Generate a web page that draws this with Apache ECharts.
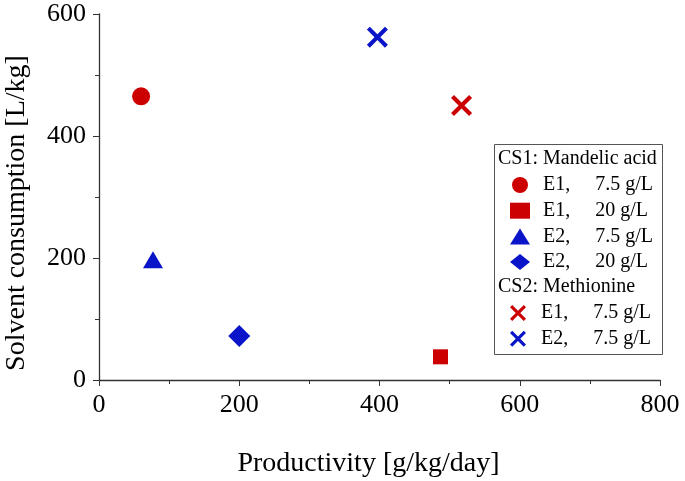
<!DOCTYPE html>
<html><head><meta charset="utf-8">
<script src="https://cdn.jsdelivr.net/npm/echarts@6/dist/echarts.min.js"></script>
<style>html,body{margin:0;padding:0;background:#fff}#c{width:685px;height:481px}</style>
</head><body><div id="c"></div>
<script>
const seriesNames = ['E1,     7.5 g/L', 'E1,     20 g/L', 'E2,     7.5 g/L', 'E2,     20 g/L', 'E1,     7.5 g/L ', 'E2,     7.5 g/L '];
const xValues = [60, 487, 77, 200, 517, 397];
const yValues = [465, 38, 197, 72, 450, 562];
const xTicks = [0, 200, 400, 600, 800];
const yTicks = [0, 200, 400, 600];
const groupTitles = ['CS1: Mandelic acid', 'CS2: Methionine'];

const RED = '#cc0000', BLUE = '#0a14c8';
const X = 'path://M0,1.4L1.4,0L5,3.6L8.6,0L10,1.4L6.4,5L10,8.6L8.6,10L5,6.4L1.4,10L0,8.6L3.6,5Z';
const symbols = ['circle', 'rect', 'triangle', 'diamond', X, X];
const sizes = [18, 15, [20, 17], [22, 22], 21, 21];
const colors = [RED, RED, BLUE, BLUE, RED, BLUE];
const font = 'Liberation Serif';

const series = seriesNames.map((n, i) => ({
  type: 'scatter', name: n, symbol: symbols[i], symbolSize: sizes[i],
  itemStyle: {color: colors[i], opacity: 1},
  data: [[xValues[i], yValues[i]]]
}));

const legendCommon = {
  orient: 'vertical', left: 510, itemWidth: 20, itemHeight: 16, itemGap: 5.7,
  textStyle: {fontFamily: font, fontSize: 20, lineHeight: 20, color: '#000', padding: [0, 0, 0, 8]},
  selectedMode: false, padding: 0
};

const chart = echarts.init(document.getElementById('c'), null, {renderer: 'canvas'});
chart.setOption({
  animation: false,
  grid: {left: 99, right: 25, top: 14, bottom: 101, containLabel: false, outerBoundsMode: 'none'},
  xAxis: {
    type: 'value', min: xTicks[0], max: xTicks[xTicks.length - 1], interval: 200,
    name: 'Productivity [g/kg/day]', nameLocation: 'middle', nameGap: 70,
    nameTextStyle: {fontFamily: font, fontSize: 28, color: '#000', padding: [0, 22, 0, 0]},
    axisLine: {show: true, lineStyle: {color: '#333', width: 1.3}},
    axisTick: {show: true, length: 6, lineStyle: {color: '#333'}},
    minorTick: {show: true, splitNumber: 2, length: 4, lineStyle: {color: '#333'}},
    axisLabel: {fontFamily: font, fontSize: 26, color: '#000', margin: 12},
    splitLine: {show: false}
  },
  yAxis: {
    type: 'value', min: yTicks[0], max: yTicks[yTicks.length - 1], interval: 200,
    name: 'Solvent consumption [L/kg]', nameLocation: 'middle', nameGap: 68,
    nameTextStyle: {fontFamily: font, fontSize: 28, color: '#000', padding: [0, 32, 0, 0]},
    axisLine: {show: true, lineStyle: {color: '#333', width: 1.3}},
    axisTick: {show: true, length: 6, lineStyle: {color: '#333'}},
    minorTick: {show: true, splitNumber: 2, length: 4, lineStyle: {color: '#333'}},
    axisLabel: {fontFamily: font, fontSize: 26, color: '#000', margin: 13},
    splitLine: {show: false}
  },
  legend: [
    Object.assign({}, legendCommon, {top: 175, data: seriesNames.slice(0, 4)}),
    Object.assign({}, legendCommon, {top: 303, data: seriesNames.slice(4)})
  ],
  graphic: [
    {type: 'rect', left: 494, top: 144, shape: {width: 168, height: 210},
     style: {fill: '#fff', stroke: '#555', lineWidth: 1}, z: -1},
    {type: 'text', left: 498, top: 149, style: {text: groupTitles[0], font: '20px "Liberation Serif"', fill: '#000'}},
    {type: 'text', left: 498, top: 277, style: {text: groupTitles[1], font: '20px "Liberation Serif"', fill: '#000'}}
  ],
  series: series
});
</script></body></html>
